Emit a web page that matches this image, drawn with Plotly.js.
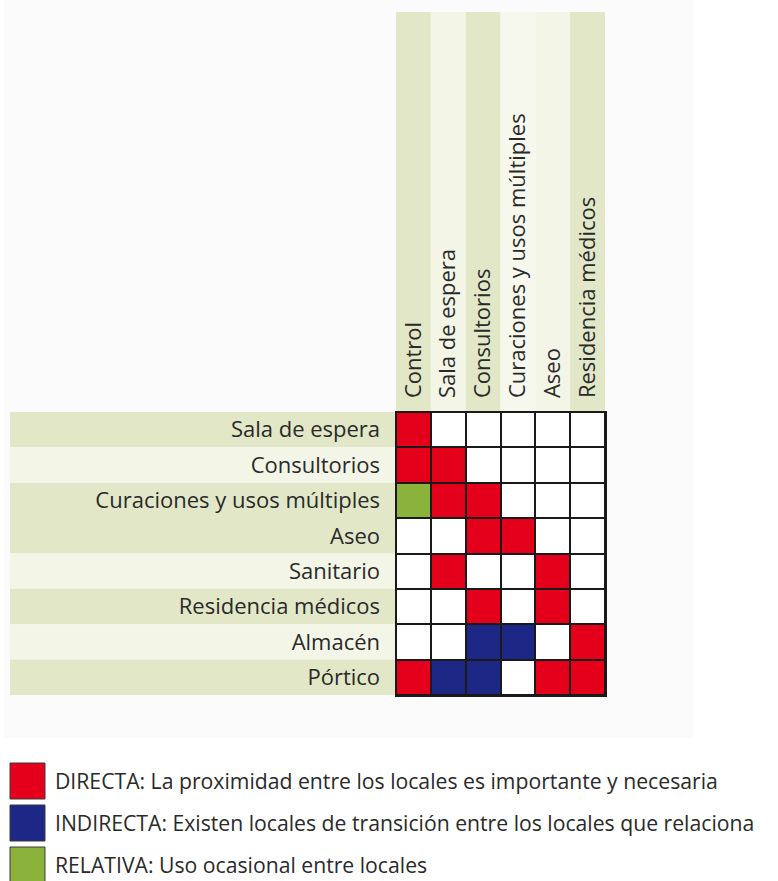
<!DOCTYPE html>
<html>
<head>
<meta charset="utf-8">
<script src="https://cdn.plot.ly/plotly-3.0.1.min.js"></script>
<style>html,body{margin:0;padding:0;background:#fff;}#chart{width:778px;height:881px;}</style>
</head>
<body>
<div id="chart"></div>
<script>
// ---- data ----
const columns = ["Control", "Sala de espera", "Consultorios", "Curaciones y usos múltiples", "Aseo", "Residencia médicos"];
const rows = ["Sala de espera", "Consultorios", "Curaciones y usos múltiples", "Aseo", "Sanitario", "Residencia médicos", "Almacén", "Pórtico"];
// 0 = ninguna, 1 = DIRECTA, 2 = INDIRECTA, 3 = RELATIVA
const relSalaEspera   = [1, 0, 0, 0, 0, 0];
const relConsultorios = [1, 1, 0, 0, 0, 0];
const relCuraciones   = [3, 1, 1, 0, 0, 0];
const relAseo         = [0, 0, 1, 1, 0, 0];
const relSanitario    = [0, 1, 0, 0, 1, 0];
const relResidencia   = [0, 0, 1, 0, 1, 0];
const relAlmacen      = [0, 0, 2, 2, 0, 1];
const relPortico      = [1, 2, 2, 0, 1, 1];
const legendLabels = [
  "DIRECTA: La proximidad entre los locales es importante y necesaria",
  "INDIRECTA: Existen locales de transición entre los locales que relaciona",
  "RELATIVA: Uso ocasional entre locales"
];

// ---- style ----
const W = 778, H = 881;
const RED = '#e4001b', BLUE = '#1d2785', GREEN = '#8bb23a';
const legendColors = [RED, BLUE, GREEN];
const DARK = '#e2e8c7', LIGHT = '#f3f6e7', LIGHTER = '#f6f8ee';
const colBand = [DARK, LIGHT, DARK, LIGHTER, LIGHT, DARK];
const rowBand = [DARK, LIGHT, DARK, DARK, LIGHT, DARK, LIGHT, DARK];
const FONT = '"Open Sans", "Noto Sans", sans-serif';
const TXT = '#2a2a2a';
const FS = 22, LFS = 21.2;
const gridL = 396, gridR = 605, gridT = 412, gridB = 695;
const px = v => v / W;
const py = v => 1 - v / H;

const z = [relSalaEspera, relConsultorios, relCuraciones, relAseo, relSanitario, relResidencia, relAlmacen, relPortico];

const trace = {
  type: 'heatmap',
  x: columns, y: rows, z: z,
  zmin: 0, zmax: 3,
  colorscale: [[0, '#ffffff'], [0.1667, '#ffffff'], [0.1667, RED], [0.5, RED], [0.5, BLUE], [0.8333, BLUE], [0.8333, GREEN], [1, GREEN]],
  showscale: false,
  xgap: 2, ygap: 2,
  hoverinfo: 'x+y'
};

const shapes = [];
// faint background panel (around the grid, not over it)
const panel = (x0, x1, y0, y1) => shapes.push({type: 'rect', xref: 'paper', yref: 'paper', x0: px(x0), x1: px(x1), y0: py(y1), y1: py(y0), fillcolor: '#fbfbfb', line: {width: 0}, layer: 'below'});
panel(4, gridL, 0, 738);
panel(gridR, 693, 0, 738);
panel(gridL, gridR, 0, gridT);
panel(gridL, gridR, gridB, 738);
// column header bands
columns.forEach((c, j) => shapes.push({type: 'rect', xref: 'x', yref: 'paper', x0: j - 0.5, x1: j + 0.5, y0: py(gridT), y1: py(12), fillcolor: colBand[j], line: {width: 0}, layer: 'below'}));
// row label bands
rows.forEach((r, i) => shapes.push({type: 'rect', xref: 'paper', yref: 'y', x0: px(10), x1: px(gridL), y0: i - 0.5, y1: i + 0.5, fillcolor: rowBand[i], line: {width: 0}, layer: 'below'}));

// legend
const annotations = [];
const legTop = 763, legStep = 42, legSize = 36;
legendLabels.forEach((lab, k) => {
  const t = legTop + k * legStep;
  shapes.push({type: 'rect', xref: 'paper', yref: 'paper', x0: px(10), x1: px(45), y0: py(t + legSize), y1: py(t), fillcolor: legendColors[k], line: {color: '#3a3a3a', width: 1}});
  annotations.push({xref: 'paper', yref: 'paper', x: px(53), y: py(t + 17), xanchor: 'left', yanchor: 'middle', text: lab, showarrow: false, font: {family: FONT, size: LFS, color: TXT}});
});

const layout = {
  width: W, height: H,
  margin: {l: 0, r: 0, t: 0, b: 0},
  paper_bgcolor: '#ffffff',
  plot_bgcolor: '#1a1a1a',
  showlegend: false,
  xaxis: {
    domain: [px(gridL), px(gridR)],
    side: 'top', type: 'category', range: [-0.5, columns.length - 0.5],
    tickangle: -90, ticks: '', ticklabelstandoff: 8,
    tickfont: {family: FONT, size: FS, color: TXT},
    showgrid: false, zeroline: false,
    showline: true, mirror: true, linecolor: '#1a1a1a', linewidth: 1.5,
    fixedrange: true
  },
  yaxis: {
    domain: [py(gridB), py(gridT)],
    type: 'category', range: [rows.length - 0.5, -0.5],
    ticks: '', ticklabelstandoff: 10,
    tickfont: {family: FONT, size: FS, color: TXT},
    showgrid: false, zeroline: false,
    showline: true, mirror: true, linecolor: '#1a1a1a', linewidth: 1.5,
    fixedrange: true
  },
  shapes: shapes,
  annotations: annotations
};

Plotly.newPlot('chart', [trace], layout, {displayModeBar: false, staticPlot: true});
</script>
</body>
</html>
